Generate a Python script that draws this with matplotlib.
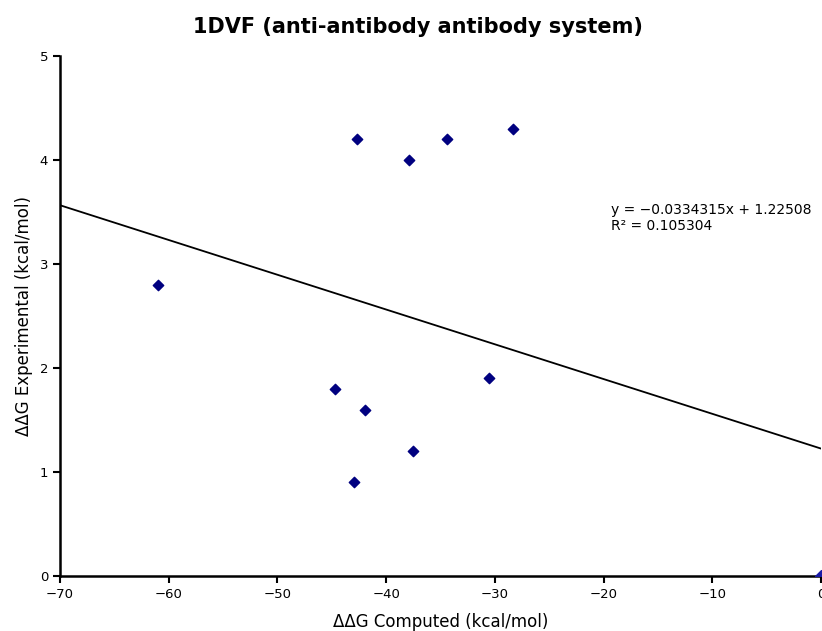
import matplotlib
matplotlib.use('Agg')
import matplotlib.pyplot as plt
import numpy as np

# ddG values for the 1DVF complex (computed vs experimental, kcal/mol)
computed = [-61.0, -42.7, -37.9, -34.4, -28.3, -44.7, -41.9, -30.5, -37.5, -43.0]
experimental = [2.8, 4.2, 4.0, 4.2, 4.3, 1.8, 1.6, 1.9, 1.2, 0.9]
origin_x = [0.0]
origin_y = [0.0]

slope = -0.0334315
intercept = 1.22508
r_squared = 0.105304

fig = plt.figure(figsize=(8.22, 6.31), dpi=100)
ax = fig.add_axes([0.073, 0.0872, 0.9258, 0.824])

ax.scatter(computed, experimental, marker='D', s=28, color='#000080', zorder=3)
ax.scatter(origin_x, origin_y, marker='D', s=36, color='#1a1aa6', zorder=3)

fit_x = np.array([-70, 0])
ax.plot(fit_x, slope * fit_x + intercept, color='black', lw=1.3)

ax.text(-19.3, 3.52, f'y = \u22120.0334315x + {intercept}', fontsize=10, va='center')
ax.text(-19.3, 3.37, f'R\u00b2 = {r_squared}', fontsize=10, va='center')

ax.set_xlim(-70, 0)
ax.set_ylim(0, 5)
ax.set_xticks(range(-70, 1, 10))
ax.set_yticks(range(0, 6))
ax.spines['top'].set_visible(False)
ax.spines['right'].set_visible(False)
ax.spines['left'].set_linewidth(1.8)
ax.spines['bottom'].set_linewidth(1.8)
ax.tick_params(direction='out', length=5, width=1.5, labelsize=9.5)

ax.set_xlabel('\u0394\u0394G Computed (kcal/mol)', fontsize=12, labelpad=8.5)
ax.set_ylabel('\u0394\u0394G Experimental (kcal/mol)', fontsize=12, labelpad=5)
fig.suptitle('1DVF (anti-antibody antibody system)', x=0.508, y=0.957,
             fontsize=15, fontweight='bold', va='center')

fig.savefig('out.png', dpi=100)
